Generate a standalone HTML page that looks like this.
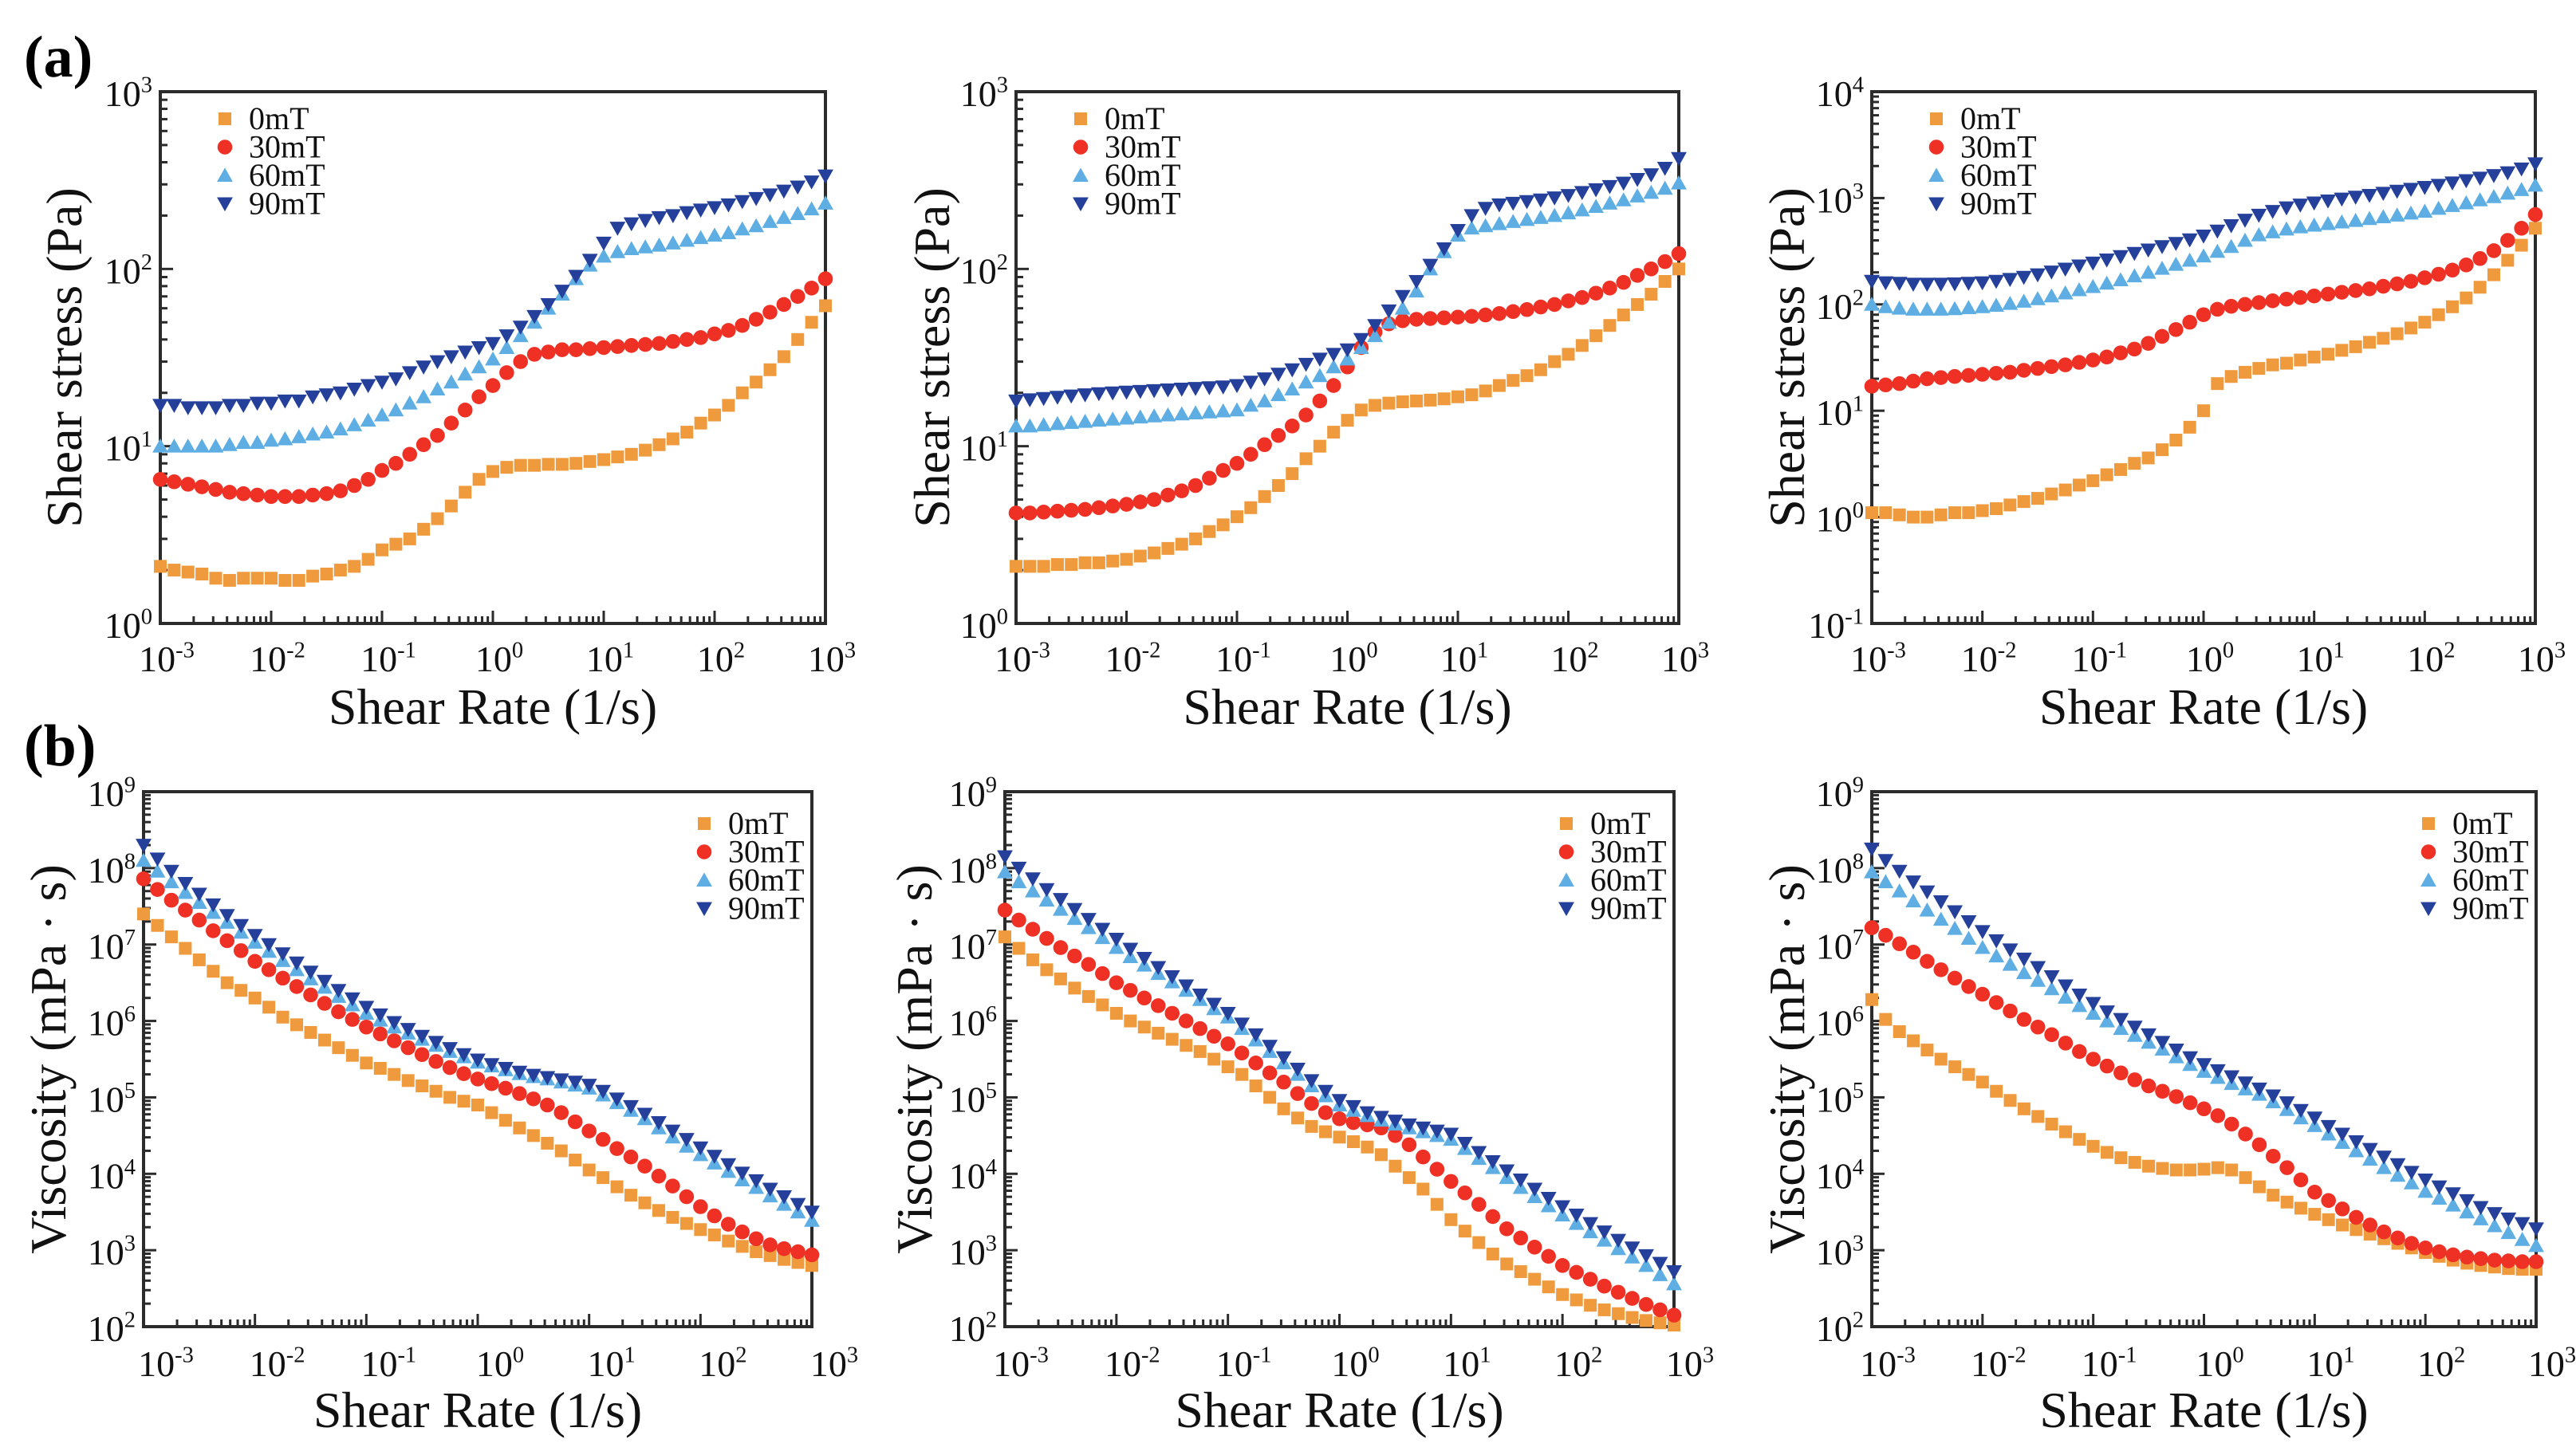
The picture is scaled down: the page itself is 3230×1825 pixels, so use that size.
<!DOCTYPE html>
<html><head><meta charset="utf-8"><style>
html,body{margin:0;padding:0;background:#fff;}
svg, svg text, svg tspan{font-family:"Liberation Serif","DejaVu Serif",serif;}
svg{display:block;}
</style></head><body>
<svg id="fig" width="3230" height="1825" viewBox="0 0 3230 1825" xmlns="http://www.w3.org/2000/svg" font-family="Liberation Serif, DejaVu Serif, serif">
<rect width="3230" height="1825" fill="#fff"/>
<text x="30" y="96" font-size="74" font-weight="bold" font-family="Liberation Serif, serif">(a)</text>
<text x="30" y="960" font-size="74" font-weight="bold" font-family="Liberation Serif, serif">(b)</text>
</svg>
<script>
// ---- data ----
const seriesNames = ["0mT","30mT","60mT","90mT"];
const xStartDecade = -3, pointsPerDecade = 8, pointCount = 49;
// Panel a1: shear stress (Pa)
const a1_0 = [2.1,2.0,1.95,1.9,1.8,1.75,1.8,1.8,1.8,1.75,1.75,1.85,1.9,2.0,2.1,2.3,2.6,2.8,3.0,3.4,3.9,4.6,5.5,6.5,7.2,7.6,7.8,7.8,7.9,7.9,8.0,8.2,8.4,8.7,9.0,9.5,10.2,11,12,13.5,15,17,20,23,27,32,40,50,62];
const a1_30 = [6.5,6.3,6.1,5.9,5.7,5.5,5.4,5.3,5.2,5.2,5.2,5.3,5.4,5.6,6.0,6.5,7.3,8.0,9.0,10.2,11.5,13.5,16,19,22,26,30,33,34,35,35,35.5,36,36.5,37,37.5,38,39,40,41,43,45,48,52,57,63,70,78,88];
const a1_60 = [10,10,10,10,10,10.2,10.5,10.5,10.8,11,11.3,11.7,12,12.5,13.2,14,15,16,17.5,19,21,23,25.5,28,31,36,42,50,60,72,88,105,118,125,130,133,136,140,145,150,155,160,168,175,185,195,205,218,235];
const a1_90 = [17,17,16.5,16.5,16.5,17,17,17.5,17.5,18,18,19,19.5,20,21,22,23,24,26,28,30,32,34,36,38,42,47,54,63,75,91,112,140,170,180,188,195,200,208,215,222,230,240,250,262,275,290,310,335];
// Panel a2
const a2_0 = [2.1,2.1,2.1,2.15,2.15,2.2,2.2,2.25,2.3,2.4,2.5,2.65,2.8,3.0,3.3,3.6,4.0,4.5,5.2,6.0,7.0,8.5,10,12,14,16,17,17.5,17.8,18,18.2,18.5,19,19.5,20.5,22,23.5,25,27,30,33,37,42,48,55,63,72,85,100];
const a2_30 = [4.2,4.2,4.25,4.3,4.35,4.4,4.5,4.6,4.7,4.85,5.0,5.3,5.6,6.0,6.6,7.3,8.0,9.0,10.2,11.5,13,15,18,22,28,36,44,49,51,52,52.5,53,53.5,54,55,56,57.5,59,61,63,66,69,73,78,84,92,100,110,122];
const a2_60 = [13,13,13.2,13.4,13.6,13.8,14,14.2,14.4,14.6,14.8,15,15.2,15.4,15.6,15.8,16,17,18,19.5,21,23,25,28,31,36,42,50,60,75,100,125,155,170,175,180,185,190,195,200,207,215,225,235,245,258,270,285,305];
const a2_90 = [18,18.3,18.6,18.9,19.2,19.5,19.8,20,20.2,20.4,20.6,20.8,21,21.2,21.4,21.6,22,23,24,25.5,27,29,31,33,35,40,48,58,70,85,105,130,165,200,220,230,235,240,245,252,260,270,280,292,305,320,340,370,420];
// Panel a3
const a3_0 = [1.1,1.1,1.05,1.0,1.0,1.05,1.1,1.1,1.15,1.2,1.3,1.4,1.5,1.65,1.8,2.0,2.2,2.5,2.8,3.2,3.6,4.3,5.3,7,10,18,21,23,25,27,28,30,32,34,37,40,44,48,53,60,68,80,95,115,145,190,260,360,520];
const a3_30 = [17,17.5,18,19,20,20.5,21,21.5,22,22.5,23,24,25,26,27,28.5,30,32,35,38,43,50,58,68,80,90,96,100,104,108,112,116,120,125,130,135,140,148,156,165,178,192,210,235,270,320,400,520,700];
const a3_60 = [100,95,92,90,90,90,91,93,95,98,102,107,113,120,128,137,147,158,170,185,200,218,238,260,285,315,350,400,450,480,510,535,555,575,595,615,640,665,690,720,750,800,850,900,960,1030,1110,1200,1320];
const a3_90 = [165,160,158,155,155,155,156,158,160,165,172,180,190,202,215,230,245,262,282,302,325,350,375,405,440,490,550,620,690,750,810,860,900,940,980,1020,1060,1110,1160,1210,1260,1320,1390,1460,1540,1630,1730,1880,2100];
// Panels b: log10 of viscosity (mPa·s)
const b1_0 = [7.4,7.25,7.1,6.95,6.8,6.65,6.5,6.4,6.3,6.18,6.05,5.95,5.85,5.75,5.65,5.55,5.45,5.38,5.3,5.22,5.15,5.08,5.0,4.95,4.9,4.8,4.7,4.6,4.5,4.4,4.3,4.18,4.05,3.95,3.83,3.72,3.62,3.52,3.43,3.35,3.27,3.2,3.12,3.05,2.98,2.93,2.88,2.84,2.8];
const b1_30 = [7.86,7.72,7.58,7.45,7.32,7.18,7.05,6.92,6.78,6.67,6.56,6.45,6.34,6.23,6.12,6.02,5.92,5.83,5.74,5.65,5.56,5.47,5.39,5.31,5.24,5.18,5.12,5.05,4.98,4.9,4.8,4.68,4.56,4.45,4.33,4.22,4.1,3.97,3.84,3.7,3.57,3.45,3.34,3.24,3.15,3.07,3.02,2.98,2.94];
const b1_60 = [8.1,7.96,7.82,7.68,7.55,7.42,7.29,7.16,7.03,6.91,6.79,6.67,6.55,6.44,6.32,6.21,6.1,6.01,5.92,5.84,5.76,5.68,5.6,5.53,5.46,5.41,5.36,5.31,5.27,5.24,5.2,5.16,5.12,5.03,4.93,4.83,4.72,4.6,4.48,4.36,4.25,4.14,4.03,3.92,3.82,3.71,3.6,3.5,3.39];
const b1_90 = [8.3,8.12,7.96,7.8,7.66,7.52,7.38,7.25,7.12,7.0,6.88,6.76,6.64,6.52,6.4,6.29,6.18,6.08,5.98,5.89,5.8,5.72,5.64,5.56,5.49,5.43,5.38,5.33,5.29,5.26,5.23,5.2,5.16,5.08,4.98,4.88,4.78,4.67,4.56,4.45,4.34,4.23,4.12,4.01,3.91,3.8,3.7,3.6,3.5];
const b2_0 = [7.1,6.95,6.8,6.67,6.55,6.43,6.32,6.21,6.1,6.0,5.92,5.84,5.76,5.68,5.6,5.5,5.4,5.3,5.15,5.0,4.85,4.73,4.62,4.55,4.48,4.42,4.35,4.25,4.1,3.95,3.8,3.6,3.4,3.25,3.1,2.95,2.82,2.72,2.62,2.52,2.42,2.35,2.28,2.22,2.17,2.12,2.08,2.05,2.02];
const b2_30 = [7.45,7.32,7.2,7.08,6.96,6.85,6.74,6.62,6.5,6.4,6.3,6.2,6.1,6.0,5.9,5.8,5.7,5.58,5.45,5.32,5.2,5.05,4.92,4.8,4.72,4.67,4.64,4.6,4.5,4.38,4.22,4.06,3.9,3.75,3.6,3.44,3.28,3.16,3.04,2.92,2.8,2.71,2.62,2.53,2.45,2.37,2.29,2.22,2.15];
const b2_60 = [7.95,7.82,7.7,7.58,7.46,7.34,7.22,7.09,6.96,6.84,6.73,6.62,6.51,6.4,6.28,6.16,6.05,5.9,5.75,5.6,5.45,5.3,5.15,5.02,4.9,4.83,4.76,4.7,4.65,4.6,4.55,4.5,4.45,4.33,4.2,4.08,3.95,3.82,3.7,3.58,3.46,3.35,3.24,3.13,3.02,2.91,2.8,2.68,2.56];
const b2_90 = [8.15,8.0,7.86,7.72,7.59,7.46,7.33,7.2,7.07,6.94,6.82,6.7,6.58,6.46,6.34,6.22,6.1,5.96,5.82,5.67,5.52,5.37,5.22,5.08,4.96,4.88,4.8,4.74,4.69,4.64,4.6,4.56,4.52,4.4,4.28,4.16,4.04,3.92,3.8,3.68,3.57,3.46,3.35,3.24,3.13,3.03,2.93,2.83,2.72];
const b3_0 = [6.28,6.02,5.86,5.74,5.62,5.5,5.4,5.3,5.2,5.08,4.96,4.85,4.75,4.65,4.55,4.45,4.36,4.28,4.21,4.15,4.1,4.07,4.05,4.05,4.06,4.08,4.05,3.95,3.83,3.72,3.63,3.55,3.47,3.4,3.33,3.27,3.21,3.15,3.09,3.03,2.97,2.92,2.87,2.83,2.8,2.78,2.76,2.75,2.75];
const b3_30 = [7.22,7.12,7.01,6.9,6.78,6.67,6.56,6.45,6.35,6.24,6.13,6.02,5.92,5.82,5.71,5.6,5.5,5.41,5.32,5.23,5.15,5.08,5.01,4.93,4.85,4.76,4.65,4.52,4.38,4.23,4.08,3.92,3.76,3.65,3.54,3.43,3.33,3.24,3.16,3.09,3.03,2.98,2.94,2.91,2.89,2.87,2.86,2.85,2.85];
const b3_60 = [7.95,7.82,7.7,7.57,7.45,7.33,7.21,7.08,6.96,6.85,6.74,6.63,6.53,6.42,6.31,6.2,6.1,6.0,5.9,5.81,5.72,5.63,5.53,5.43,5.34,5.26,5.18,5.11,5.04,4.94,4.84,4.73,4.63,4.52,4.41,4.3,4.19,4.08,3.98,3.88,3.77,3.68,3.59,3.5,3.41,3.32,3.23,3.14,3.06];
const b3_90 = [8.25,8.1,7.96,7.82,7.69,7.56,7.43,7.3,7.17,7.05,6.93,6.81,6.7,6.58,6.46,6.34,6.23,6.12,6.02,5.92,5.82,5.72,5.62,5.52,5.43,5.35,5.27,5.19,5.11,5.02,4.93,4.83,4.73,4.62,4.52,4.42,4.32,4.22,4.12,4.02,3.92,3.83,3.74,3.65,3.56,3.48,3.41,3.35,3.28];
const xTickExponents = [-3,-2,-1,0,1,2,3];
const yTicksA12 = [0,1,2,3];
const yTicksA3 = [-1,0,1,2,3,4];
const yTicksB = [2,3,4,5,6,7,8,9];

// ---- drawing ----
const NS = "http://www.w3.org/2000/svg";
const FONT = "Liberation Serif, DejaVu Serif, serif";
const svg = document.getElementById("fig");
const colors = ["#ef9a3c","#ee3124","#5eaee3","#24409a"];
const shapes = ["square","circle","up","down"];
function mk(tag, attrs, parent){const e=document.createElementNS(NS,tag);for(const k in attrs)e.setAttribute(k,attrs[k]);(parent||svg).appendChild(e);return e;}
function marker(g, shape, cx, cy, s, color){
  let e;
  if(shape==="square") e=mk("rect",{x:cx-s/2,y:cy-s/2,width:s,height:s,fill:color},g);
  else if(shape==="circle") e=mk("circle",{cx:cx,cy:cy,r:s*0.58,fill:color},g);
  else if(shape==="up") e=mk("polygon",{points:`${cx-s*0.62},${cy+s*0.5} ${cx+s*0.62},${cy+s*0.5} ${cx},${cy-s*0.6}`,fill:color},g);
  else e=mk("polygon",{points:`${cx-s*0.62},${cy-s*0.5} ${cx+s*0.62},${cy-s*0.5} ${cx},${cy+s*0.6}`,fill:color},g);
  return e;
}
function powLabel(parent, x, y, exp, anchor, size){
  const t=mk("text",{x:x,y:y,"font-size":size,"text-anchor":anchor,fill:"#111","font-family":FONT},parent);
  t.appendChild(document.createTextNode("10"));
  const s=mk("tspan",{dy:-size*0.38,"font-size":size*0.62},t);
  s.textContent = exp<0 ? "-"+Math.abs(exp) : String(exp);
  return t;
}
function panel(cfg){
  const g=mk("g",{});
  
  
  const L=cfg.x0,R=cfg.x1,T=cfg.y0,B=cfg.y1;
  const xsLog=e=>L+(e+3)/6*(R-L);
  const ysLog=e=>B-(e-cfg.ymin)/(cfg.ymax-cfg.ymin)*(B-T);
  const fr=mk("rect",{x:L,y:T,width:R-L,height:B-T,fill:"none",stroke:"#2b2b2b","stroke-width":4},g);
  
  
  const xt=mk("g",{stroke:"#2b2b2b","stroke-width":3},g);
  
  
  for(let d=-3; d<3; d++){for(let m=1;m<10;m++){const X=xsLog(d+Math.log10(m));const len=m===1?16:9;mk("line",{x1:X,y1:B,x2:X,y2:B-len},xt);}}
  mk("line",{x1:R,y1:B,x2:R,y2:B-16},xt);
  xTickExponents.forEach(e=>{const lab=powLabel(g,xsLog(e)+cfg.xlabOff,cfg.xlabY,e,"middle",46);
    
    });
  const yt=mk("g",{stroke:"#2b2b2b","stroke-width":3},g);
  
  
  for(let d=cfg.ymin; d<cfg.ymax; d++){for(let m=1;m<10;m++){const Y=ysLog(d+Math.log10(m));const len=m===1?16:9;mk("line",{x1:L,y1:Y,x2:L+len,y2:Y},yt);}}
  cfg.yticks.forEach(e=>{const lab=powLabel(g,L-10,ysLog(e)+18,e,"end",46);
    
    });
  const xtT=mk("text",{x:(L+R)/2,y:cfg.xtitleY,"font-size":64,"text-anchor":"middle",fill:"#111","font-family":FONT},g);
  xtT.textContent="Shear Rate (1/s)";
  
  
  const ytT=mk("text",{x:0,y:0,"font-size":64,"text-anchor":"middle",fill:"#111","font-family":FONT,transform:`translate(${cfg.ytitleX},${(T+B)/2}) rotate(-90)`},g);
  ytT.textContent=cfg.ytitle;
  
  
  cfg.series.forEach((arr,si)=>{
    const sg=mk("g",{},g);
    
    
    arr.forEach((v,i)=>{
      const e=xStartDecade+i/pointsPerDecade;
      const X=xsLog(e);
      const Y=cfg.logValues? ysLog(v) : ysLog(Math.log10(v));
      const m=marker(sg,shapes[si],X,Y,16,colors[si]);
      
      
    });
  });
  const lg=mk("g",{},g);
  
  
  seriesNames.forEach((nm,si)=>{
    const ly=cfg.legY+si*35.5;
    const mx=cfg.legRight? R-cfg.legDx : L+cfg.legDx;
    const m=marker(lg,shapes[si],mx,ly,16,colors[si]);
    
    
    const t=mk("text",{x:mx+30,y:ly+13,"font-size":40,fill:"#111","font-family":FONT},lg);
    t.textContent=nm;
    
    
  });
}
const topY0=115, topY1=782, botY0=993, botY1=1664;
panel({name:"panel-a1-shear-stress",x0:201,x1:1035,y0:topY0,y1:topY1,ymin:0,ymax:3,yticks:yTicksA12,series:[a1_0,a1_30,a1_60,a1_90],logValues:false,ytitle:"Shear stress (Pa)",ytitleX:102,xtitleY:908,xlabY:842,xlabOff:8,legDx:81,legY:149});
panel({name:"panel-a2-shear-stress",x0:1274,x1:2105,y0:topY0,y1:topY1,ymin:0,ymax:3,yticks:yTicksA12,series:[a2_0,a2_30,a2_60,a2_90],logValues:false,ytitle:"Shear stress (Pa)",ytitleX:1190,xtitleY:908,xlabY:842,xlabOff:8,legDx:81,legY:149});
panel({name:"panel-a3-shear-stress",x0:2347,x1:3179,y0:topY0,y1:topY1,ymin:-1,ymax:4,yticks:yTicksA3,series:[a3_0,a3_30,a3_60,a3_90],logValues:false,ytitle:"Shear stress (Pa)",ytitleX:2262,xtitleY:908,xlabY:842,xlabOff:8,legDx:81,legY:149});
panel({name:"panel-b1-viscosity",x0:180,x1:1018,y0:botY0,y1:botY1,ymin:2,ymax:9,yticks:yTicksB,series:[b1_0,b1_30,b1_60,b1_90],logValues:true,ytitle:"Viscosity (mPa · s)",ytitleX:82,xtitleY:1790,xlabY:1726,xlabOff:28,legDx:135,legY:1033,legRight:true});
panel({name:"panel-b2-viscosity",x0:1260,x1:2099,y0:botY0,y1:botY1,ymin:2,ymax:9,yticks:yTicksB,series:[b2_0,b2_30,b2_60,b2_90],logValues:true,ytitle:"Viscosity (mPa · s)",ytitleX:1168,xtitleY:1790,xlabY:1726,xlabOff:20,legDx:135,legY:1033,legRight:true});
panel({name:"panel-b3-viscosity",x0:2347,x1:3180,y0:botY0,y1:botY1,ymin:2,ymax:9,yticks:yTicksB,series:[b3_0,b3_30,b3_60,b3_90],logValues:true,ytitle:"Viscosity (mPa · s)",ytitleX:2262,xtitleY:1790,xlabY:1726,xlabOff:20,legDx:135,legY:1033,legRight:true});
</script>
</body></html>
